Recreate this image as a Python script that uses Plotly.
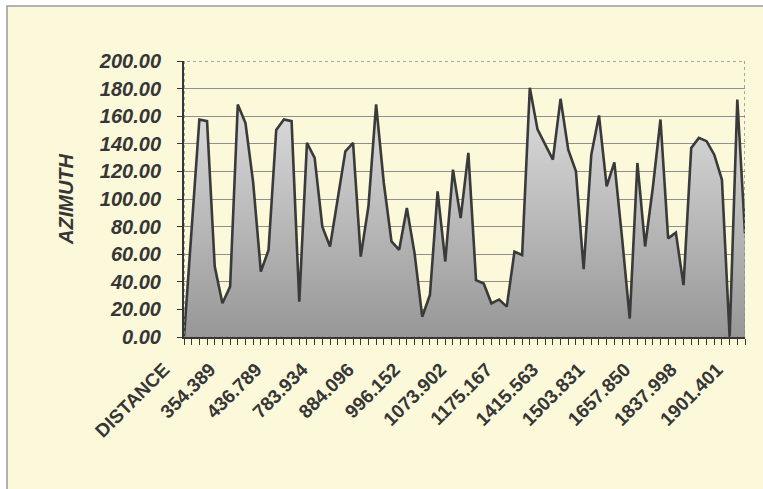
import plotly.graph_objects as go

# azimuth per survey point (first row is the header -> 0)
azimuth = [
    0, 80, 157.6, 156.4, 51, 24.4, 36.5, 168.5, 155, 112,
    47.4, 63, 150, 157.6, 156.4, 25.6, 140.7, 129.8, 80, 65.6,
    100, 134.6, 140.7, 58.3, 94.7, 168.5, 111.6, 69.3, 63.2, 93.5,
    60.7, 14.7, 30.4, 105.6, 54.7, 121.3, 86.2, 133.4, 41.2, 38.8,
    24.4, 27.2, 22.0, 61.8, 59.4, 180.6, 150.4, 139.6, 128.5, 172.6,
    135.8, 120.1, 49.1, 132.1, 160.5, 109.1, 126.6, 72, 13.4, 126.1,
    65.6, 108, 157.6, 71.5, 75.6, 37.6, 137, 144.3, 141.9, 132.1,
    113.9, 0, 172.1, 75.1,
]
points = list(range(len(azimuth)))

# only every 6th distance is labelled on the axis
label_every = 6
distance_labels = [
    "DISTANCE", "354.389", "436.789", "783.934", "884.096", "996.152",
    "1073.902", "1175.167", "1415.563", "1503.831", "1657.850",
    "1837.998", "1901.401",
]
label_pos = points[::label_every][: len(distance_labels)]

W, H = 763, 489
ML, MR, MT, MB = 184, 18, 61, 152
pw, ph = W - ML - MR, H - MT - MB

ink = "#363636"
font = "Liberation Sans, Arial, sans-serif"

fig = go.Figure()
fig.add_trace(
    go.Scatter(
        x=points,
        y=azimuth,
        mode="lines",
        line=dict(color="#3a3a3a", width=2.6),
        fill="tozeroy",
        fillgradient=dict(
            type="vertical",
            colorscale=[[0, "#979797"], [1, "#e8e8e8"]],
            start=0,
            stop=200,
        ),
        hoverinfo="x+y",
    )
)


def px_x(p):
    return (p - ML) / pw


def px_y(p):
    return (H - MB - p) / ph


shapes = [
    # yellowish sheet behind everything
    dict(type="rect", xref="paper", yref="paper", layer="below",
         x0=px_x(7), x1=px_x(W + 10), y0=px_y(H + 10), y1=px_y(6),
         fillcolor="#fcf9da", line=dict(color="#9a9a9a", width=1.5)),
    # plot frame (top/right are faint and dotted in the scan)
    dict(type="rect", xref="x", yref="y", layer="above",
         x0=0, x1=points[-1], y0=0, y1=200,
         line=dict(color="#8a8a8a", width=1.5, dash="dot")),
]

fig.update_layout(
    width=W,
    height=H,
    margin=dict(l=ML, r=MR, t=MT, b=MB),
    paper_bgcolor="white",
    plot_bgcolor="white",
    showlegend=False,
    shapes=shapes,
    annotations=[
        dict(text="<b><i>AZIMUTH</i></b>", xref="paper", yref="paper",
             x=px_x(53), y=0.5, textangle=-90, showarrow=False,
             font=dict(family=font, size=20, color=ink)),
    ],
)

fig.update_yaxes(
    range=[0, 200],
    dtick=20,
    tickformat=".2f",
    showgrid=True,
    gridcolor="#8f8f8f",
    gridwidth=1,
    zeroline=False,
    showline=True,
    linecolor=ink,
    linewidth=2,
    ticks="outside",
    ticklen=5,
    tickcolor=ink,
    ticklabelstandoff=12,
    tickfont=dict(family=font, size=20, color=ink, weight="bold", style="italic"),
)

fig.update_xaxes(
    range=[0, points[-1]],
    tickmode="array",
    tickvals=label_pos,
    ticktext=distance_labels,
    tickangle=-45,
    showgrid=False,
    zeroline=False,
    showline=True,
    linecolor=ink,
    linewidth=2,
    ticks="outside",
    ticklen=6,
    tickcolor=ink,
    ticklabelshift=-20,
    ticklabelstandoff=6,
    minor=dict(ticks="outside", ticklen=6, tickcolor=ink, dtick=1, tick0=0, showgrid=False),
    tickfont=dict(family=font, size=19, color=ink, weight="bold"),
)

# drop the browser's default 8px body margin so the figure sits at the page corner
fig.write_html(
    "out.html",
    config={"displayModeBar": False},
    post_script="document.body.style.margin='0';",
)
